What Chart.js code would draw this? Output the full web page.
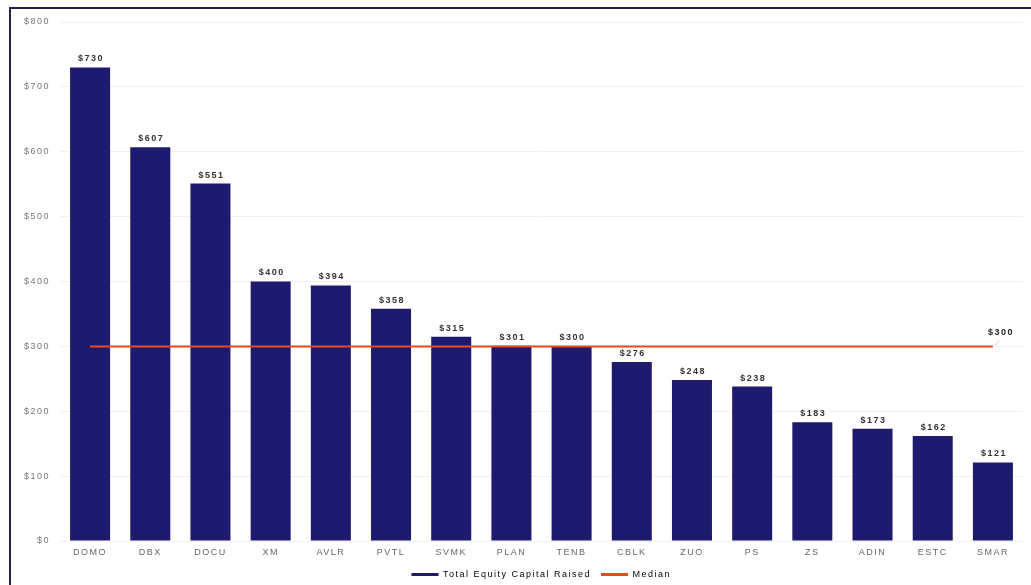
<!DOCTYPE html>
<html lang="en">
<head>
    <meta charset="UTF-8">
    <title>Total Equity Capital Raised</title>
    <script src="https://cdn.jsdelivr.net/npm/chart.js"></script>
    <style>
        html, body { margin: 0; padding: 0; background: #fff; }
        #wrap { position: relative; width: 1031px; height: 585px; }
        #frame { position: absolute; left: 9px; top: 7px; right: 0; bottom: 0;
                 border-top: 2px solid #2b1d4f; border-left: 2px solid #2b1d4f; pointer-events: none; }
    </style>
</head>
<body>
    <div id="wrap">
        <canvas id="chart" width="1031" height="585"></canvas>
        <div id="frame"></div>
    </div>
    <script>
        const companies = ['DOMO', 'DBX', 'DOCU', 'XM', 'AVLR', 'PVTL', 'SVMK', 'PLAN', 'TENB', 'CBLK', 'ZUO', 'PS', 'ZS', 'ADIN', 'ESTC', 'SMAR'];
        const capitalRaised = [730, 607, 551, 400, 394, 358, 315, 301, 300, 276, 248, 238, 183, 173, 162, 121];
        const medianValues = [300, 300, 300, 300, 300, 300, 300, 300, 300, 300, 300, 300, 300, 300, 300, 300];
        const yTicks = [0, 100, 200, 300, 400, 500, 600, 700, 800];

        const navy = '#1e1b6e';
        const orange = '#e8491d';
        const fontFamily = '"Liberation Sans", Arial, sans-serif';

        // the source chart has widely spaced lettering everywhere
        const spacing = {
            id: 'spacing',
            beforeInit(chart) { chart.ctx.letterSpacing = '1.5px'; },
            beforeDraw(chart) { chart.ctx.letterSpacing = '1.5px'; }
        };

        // value labels above bars + median label at end of line
        const valueLabels = {
            id: 'valueLabels',
            afterDatasetsDraw(chart) {
                const ctx = chart.ctx;
                ctx.save();
                ctx.font = 'bold 9px ' + fontFamily;
                ctx.fillStyle = '#333';
                ctx.textAlign = 'center';
                ctx.textBaseline = 'bottom';
                chart.getDatasetMeta(0).data.forEach((bar, i) => {
                    ctx.fillText('$' + capitalRaised[i], bar.x + 1, bar.y - 4);
                });
                const pts = chart.getDatasetMeta(1).data;
                const last = pts[pts.length - 1];
                ctx.strokeStyle = '#ccc';
                ctx.lineWidth = 1;
                ctx.beginPath();
                ctx.moveTo(last.x + 2, last.y - 1);
                ctx.lineTo(last.x + 6, last.y - 6);
                ctx.stroke();
                ctx.fillStyle = '#222';
                ctx.fillText('$' + medianValues[medianValues.length - 1], last.x + 8, last.y - 9);
                ctx.restore();
            }
        };

        new Chart(document.getElementById('chart'), {
            data: {
                labels: companies,
                datasets: [{
                    type: 'bar',
                    label: 'Total Equity Capital Raised',
                    data: capitalRaised,
                    backgroundColor: navy,
                    borderColor: navy,
                    categoryPercentage: 1,
                    barPercentage: 0.665,
                    order: 2
                }, {
                    type: 'line',
                    label: 'Median',
                    data: medianValues,
                    borderColor: orange,
                    backgroundColor: orange,
                    borderWidth: 2,
                    pointRadius: 0,
                    order: 1
                }]
            },
            options: {
                responsive: false,
                animation: false,
                layout: { padding: { left: 10, right: 8, top: 22, bottom: -4 } },
                plugins: {
                    tooltip: { enabled: false },
                    legend: {
                        position: 'bottom',
                        labels: {
                            color: '#555',
                            font: { size: 9, family: fontFamily },
                            boxWidth: 27,
                            boxHeight: 3,
                            padding: 10,
                            generateLabels(chart) {
                                return chart.data.datasets.map((ds, i) => ({
                                    text: ds.label,
                                    fillStyle: i === 0 ? navy : orange,
                                    strokeStyle: i === 0 ? navy : orange,
                                    lineWidth: 0,
                                    datasetIndex: i
                                }));
                            }
                        }
                    }
                },
                scales: {
                    x: {
                        afterFit(axis) { axis.height = 19; },
                        grid: { display: false, drawTicks: false },
                        border: { display: false },
                        ticks: {
                            color: '#666',
                            font: { size: 9, family: fontFamily },
                            padding: 6,
                            maxRotation: 0
                        }
                    },
                    y: {
                        min: 0,
                        max: 800,
                        afterFit(axis) { axis.width = 50; },
                        afterBuildTicks(axis) { axis.ticks = yTicks.map(v => ({ value: v })); },
                        grid: { color: '#f0f0f0', drawTicks: false },
                        border: { display: false },
                        ticks: {
                            color: '#777',
                            font: { size: 9, family: fontFamily },
                            padding: 10,
                            callback: v => '$' + v
                        }
                    }
                }
            },
            plugins: [spacing, valueLabels]
        });
    </script>
</body>
</html>
